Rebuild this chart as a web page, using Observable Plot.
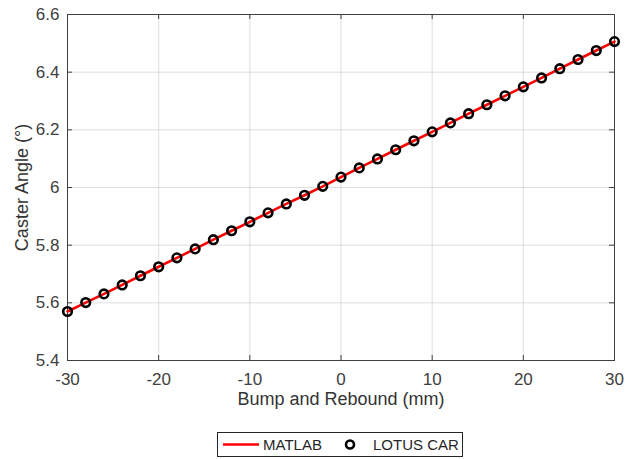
<!DOCTYPE html>
<html><head><meta charset="utf-8">
<script src="https://cdn.jsdelivr.net/npm/d3@7"></script>
<script src="https://cdn.jsdelivr.net/npm/@observablehq/plot@0.6"></script>
<style>
body{margin:0;background:#fff;font-family:Arial,"Liberation Sans",sans-serif;}
#chart{position:relative;width:625px;height:459px;background:#fff;}
#chart > svg{display:block;}
#legend{position:absolute;left:217px;top:432px;}
</style></head><body><div id="chart"></div>
<script>
const bump = [-30,-28,-26,-24,-22,-20,-18,-16,-14,-12,-10,-8,-6,-4,-2,0,2,4,6,8,10,12,14,16,18,20,22,24,26,28,30];
const casterMatlab = [5.570,5.601,5.631,5.662,5.694,5.725,5.756,5.787,5.819,5.850,5.881,5.912,5.943,5.973,6.004,6.036,6.068,6.099,6.131,6.162,6.193,6.224,6.256,6.287,6.318,6.349,6.380,6.412,6.444,6.475,6.506];
const casterLotus = [5.570,5.601,5.631,5.662,5.694,5.725,5.756,5.787,5.819,5.850,5.881,5.912,5.943,5.973,6.004,6.036,6.068,6.099,6.131,6.162,6.193,6.224,6.256,6.287,6.318,6.349,6.380,6.412,6.444,6.475,6.506];
const xTicks = [-30,-20,-10,0,10,20,30];
const yTicks = [5.4,5.6,5.8,6,6.2,6.4,6.6];
const seriesNames = ["MATLAB","LOTUS CAR"];
const xLabel = "Bump and Rebound (mm)";
const yLabel = "Caster Angle (°)";

const matlab = bump.map((b,i)=>({bump:b, caster:casterMatlab[i]}));
const lotus = bump.map((b,i)=>({bump:b, caster:casterLotus[i]}));

const W=625,H=420,mt=14,mb=60,ml=67,mr=11;
const innerH=H-mt-mb, innerW=W-ml-mr, tk=5;
const axisColor="#404040";

const chart = Plot.plot({
  width:W,height:H,marginTop:mt,marginBottom:mb,marginLeft:ml,marginRight:mr,
  style:{fontFamily:"Arial, 'Liberation Sans', sans-serif", fontSize:"17px", color:"#404040", background:"#fff", overflow:"visible"},
  x:{domain:[-30,30]},
  y:{domain:[5.4,6.6]},
  marks:[
    Plot.gridX({ticks:xTicks, stroke:"#000", strokeOpacity:0.13}),
    Plot.gridY({ticks:yTicks, stroke:"#000", strokeOpacity:0.13}),
    Plot.ruleX(xTicks,{insetTop:innerH-tk, stroke:axisColor}),
    Plot.ruleX(xTicks,{insetBottom:innerH-tk, stroke:axisColor}),
    Plot.ruleY(yTicks,{insetRight:innerW-tk, stroke:axisColor}),
    Plot.ruleY(yTicks,{insetLeft:innerW-tk, stroke:axisColor}),
    Plot.axisX({ticks:xTicks, tickSize:0, tickPadding:12, tickFormat:d=>String(d), label:null, fontSize:17}),
    Plot.axisY({ticks:yTicks, tickSize:0, tickPadding:8, tickFormat:d=>String(d), label:null, fontSize:17}),
    Plot.frame({stroke:axisColor}),
    Plot.line(matlab,{x:"bump",y:"caster",stroke:"#ff0000",strokeWidth:2.6}),
    Plot.dot(lotus,{x:"bump",y:"caster",r:4.3,stroke:"#000",strokeWidth:2.6,fill:"none"}),
    Plot.text([xLabel],{text:d=>d, frameAnchor:"bottom", textAnchor:"middle", dy:44, fontSize:18, fill:"#333"}),
    Plot.text([yLabel],{text:d=>d, frameAnchor:"left", textAnchor:"middle", rotate:-90, dx:-45, fontSize:18, fill:"#333"})
  ]
});
const root=document.getElementById("chart");
root.appendChild(chart);

const lg = document.createElement("div");
lg.id="legend";
lg.innerHTML = `<svg width="247" height="26" xmlns="http://www.w3.org/2000/svg" style="font-family:Arial,'Liberation Sans',sans-serif;font-size:15px">
<rect x="0.5" y="0.5" width="245" height="24" fill="#fff" stroke="#262626" stroke-width="1"/>
<line x1="6" x2="42" y1="12.5" y2="12.5" stroke="#ff0000" stroke-width="2.6"/>
<text x="46" y="18" fill="#262626">${seriesNames[0]}</text>
<circle cx="133" cy="12.5" r="4" fill="none" stroke="#000" stroke-width="2.6"/>
<text x="156" y="18" fill="#262626">${seriesNames[1]}</text>
</svg>`;
root.appendChild(lg);
</script></body></html>
